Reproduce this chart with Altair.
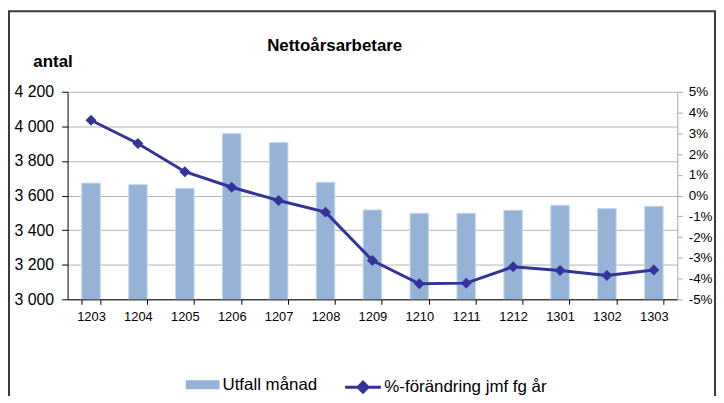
import altair as alt
import pandas as pd

months = ['1203', '1204', '1205', '1206', '1207', '1208', '1209',
          '1210', '1211', '1212', '1301', '1302', '1303']
utfall = [3672, 3663, 3642, 3959, 3907, 3677, 3517, 3498, 3498, 3515, 3544, 3525, 3538]
pct = [3.63, 2.51, 1.15, 0.40, -0.24, -0.80, -3.13, -4.25, -4.22, -3.43, -3.61, -3.85, -3.59]
left_ticks = [3000, 3200, 3400, 3600, 3800, 4000, 4200]
right_ticks = [-5, -4, -3, -2, -1, 0, 1, 2, 3, 4, 5]

bar_label = 'Utfall månad'
line_label = '%-förändring jmf fg år'
title_text = 'Nettoårsarbetare'
left_title = 'antal'

df = pd.DataFrame({'month': months, 'utfall': utfall, 'pct': pct,
                   'bar_series': bar_label, 'line_series': line_label})

FONT = 'Liberation Sans'
BAR = '#95B3D7'
LINE = '#333399'

x_enc = alt.X('month:N', sort=months, title=None,
              scale=alt.Scale(paddingInner=0.604, paddingOuter=0.302),
              axis=alt.Axis(labelAngle=0, tickBand='extent', labelFontSize=13,
                            labelColor='#000', domainColor='#000', tickColor='#000',
                            tickSize=5, labelPadding=6, grid=False, labelFont=FONT))

frame = alt.Chart(alt.Data(values=[{'k': 1}])).mark_rect(
    filled=False, stroke='#3A3A3A', strokeWidth=2, clip=False
).encode(x=alt.value(-59), x2=alt.value(652), y=alt.value(-81), y2=alt.value(400))

bars = alt.Chart(df).mark_bar(stroke='#C9D9EC', strokeWidth=1, clip=True).encode(
    x=x_enc,
    y=alt.Y('utfall:Q',
            scale=alt.Scale(domain=[3000, 4200], nice=False, zero=False),
            axis=alt.Axis(values=left_ticks,
                          labelExpr="replace(format(datum.value, ','), ',', ' ')",
                          title=left_title, titleAngle=0, titleAlign='left',
                          titleBaseline='alphabetic', titleX=-35, titleY=-25,
                          titleFontSize=17, titleFontWeight='bold', titleFont=FONT,
                          titleColor='#000',
                          grid=True, gridColor='#B3B3B3', gridWidth=1,
                          tickSize=6, tickColor='#000', domainColor='#000',
                          labelPadding=8, labelFontSize=16, labelFont=FONT,
                          labelColor='#000', labelFlush=False, labelOverlap=False)),
    fill=alt.Fill('bar_series:N', scale=alt.Scale(domain=[bar_label], range=[BAR]),
                  legend=alt.Legend(title=None, orient='none', legendX=119, legendY=278,
                                    symbolType='M-1,-0.265H1V0.265H-1Z', symbolSize=1156,
                                    symbolStrokeWidth=0, labelFontSize=17, labelOffset=3,
                                    padding=0, labelFont=FONT, labelColor='#000',
                                    labelLimit=0))
)

line = alt.Chart(df).mark_line(
    strokeWidth=3,
    point=alt.OverlayMarkDef(shape='diamond', size=121, filled=True, fill=LINE, strokeWidth=0)
).encode(
    x=alt.X('month:N', sort=months),
    y=alt.Y('pct:Q', scale=alt.Scale(domain=[-5, 5], nice=False, zero=False),
            axis=alt.Axis(orient='right', values=right_ticks, title=None,
                          labelExpr="datum.value + '%'", grid=False,
                          tickSize=5, tickColor='#A6A6A6', domainColor='#A6A6A6',
                          labelPadding=6, labelFontSize=13.5, labelFont=FONT,
                          labelColor='#000', labelFlush=False, labelOverlap=False)),
    stroke=alt.Stroke('line_series:N', scale=alt.Scale(domain=[line_label], range=[LINE]),
                      legend=alt.Legend(title=None, orient='none', legendX=278, legendY=278,
                                        symbolType='M-1,0H1M-0.28,0L0,-0.28L0.28,0L0,0.28Z',
                                        symbolSize=1296, symbolStrokeWidth=3,
                                        symbolFillColor=LINE, labelFontSize=17, labelOffset=2,
                                        padding=0, labelFont=FONT, labelColor='#000',
                                        labelLimit=0))
)

chart = alt.layer(frame, bars, line).resolve_scale(
    y='independent', fill='independent', stroke='independent'
).properties(
    width=614, height=209,
    padding={'left': 60, 'top': 83, 'right': 39, 'bottom': 96},
    autosize=alt.AutoSizeParams(type='none'),
    background='white',
    title=alt.TitleParams(text=title_text, anchor='start', dx=261, dy=58, offset=0,
                          fontSize=17, font=FONT, fontWeight='bold', color='#000',
                          baseline='alphabetic')
).configure_view(stroke=None)

chart.save("out.html", embed_options={"renderer": "svg", "actions": False})
